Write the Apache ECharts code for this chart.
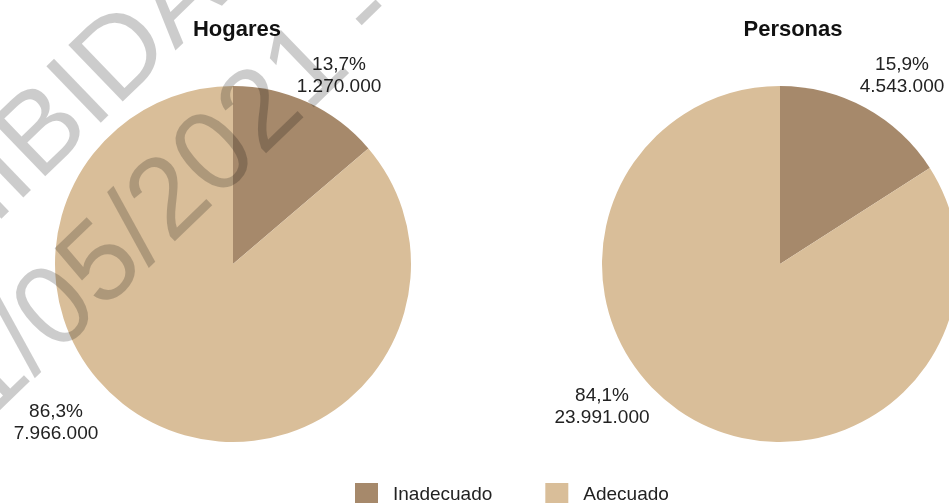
<!DOCTYPE html>
<html>
<head>
<meta charset="utf-8">
<script src="https://cdn.jsdelivr.net/npm/echarts@6/dist/echarts.min.js"></script>
<style>
  html, body { margin: 0; padding: 0; background: #fff; }
  #main { width: 949px; height: 503px; }
</style>
</head>
<body>
<div id="main"></div>
<script>
// datos
const categories = ['Inadecuado', 'Adecuado'];
const hogaresValues = [1270000, 7966000];
const hogaresPct = [13.7, 86.3];
const personasValues = [4543000, 23991000];
const personasPct = [15.9, 84.1];
const colors = ['#a6896b', '#d9be99'];

const FONT = 'Liberation Sans';

function miles(n) {
    return String(n).replace(/\B(?=(\d{3})+(?!\d))/g, '.');
}
function pct(p) {
    return p.toFixed(1).replace('.', ',') + '%';
}

// posicion de las etiquetas (como en el original)
const labelPos = [
    [[339, 76], [56, 423]],
    [[902, 76], [602, 407]]
];

function makePie(name, values, pcts, center, idx) {
    return {
        name: name,
        type: 'pie',
        center: center,
        radius: 178,
        startAngle: 90,
        clockwise: true,
        silent: true,
        label: {
            show: true,
            position: 'inside',
            formatter: function (p) {
                return pct(pcts[p.dataIndex]) + '\n' + miles(values[p.dataIndex]);
            },
            fontFamily: FONT,
            fontSize: 19,
            lineHeight: 22,
            color: '#222',
            align: 'center'
        },
        labelLine: { show: false },
        labelLayout: function (params) {
            const pos = labelPos[idx][params.dataIndex];
            return { x: pos[0], y: pos[1], align: 'center', verticalAlign: 'middle' };
        },
        data: categories.map(function (c, i) {
            return { name: c, value: values[i], itemStyle: { color: colors[i] } };
        })
    };
}

const rot = 44 * Math.PI / 180;
const wmStyle = { fontFamily: FONT, fontSize: 114, fill: 'rgba(0,0,0,0.2)',
                  textAlign: 'left', textVerticalAlign: 'middle' };

var myChart = echarts.init(document.getElementById('main'));
myChart.setOption({
    animation: false,
    title: [
        { text: 'Hogares', left: 232, top: 14, textAlign: 'center',
          textStyle: { fontFamily: FONT, fontSize: 22, fontWeight: 'bold', color: '#111' } },
        { text: 'Personas', left: 788, top: 14, textAlign: 'center',
          textStyle: { fontFamily: FONT, fontSize: 22, fontWeight: 'bold', color: '#111' } }
    ],
    legend: {
        data: categories,
        left: 355,
        top: 483,
        padding: 0,
        icon: 'rect',
        itemWidth: 23,
        itemHeight: 23,
        itemGap: 53,
        textStyle: { fontFamily: FONT, fontSize: 19, color: '#222', padding: [0, 0, 0, 10] }
    },
    series: [
        makePie('Hogares', hogaresValues, hogaresPct, [233, 264], 0),
        makePie('Personas', personasValues, personasPct, [780, 264], 1)
    ],
    // marca de agua
    graphic: [
        { type: 'text', x: -243, y: 411, rotation: rot, z: 100, silent: true,
          style: Object.assign({ text: 'PROHIBIDA' }, wmStyle) },
        { type: 'text', x: -73, y: 437, rotation: rot, z: 100, silent: true,
          style: Object.assign({ text: '11/05/2021 - ' }, wmStyle) }
    ]
});
</script>
</body>
</html>
